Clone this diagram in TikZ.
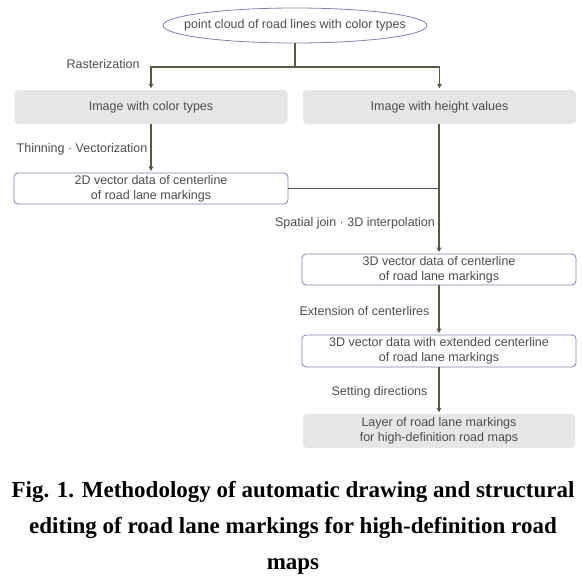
\documentclass[tikz,border=0pt]{standalone}
\usepackage{fontspec}
\setmainfont{Liberation Serif}
\setsansfont{Liberation Sans}
\usetikzlibrary{shapes.geometric,arrows.meta}
\definecolor{linec}{HTML}{5B5646}
\definecolor{txtc}{HTML}{4D4D4D}
\definecolor{bordc}{HTML}{7C84AC}
\definecolor{grayfill}{HTML}{E6E6E6}
\begin{document}
\begin{tikzpicture}[x=1pt,y=-1pt,
  every node/.style={font=\sffamily\fontsize{12.5}{15}\selectfont, text=txtc},
  graybox/.style={rectangle, rounded corners=4pt, fill=grayfill, minimum height=34pt, minimum width=273pt, inner sep=0pt, align=center},
  whitebox/.style={rectangle, rounded corners=4pt, draw=bordc, line width=0.8pt, fill=white, minimum height=31pt, minimum width=274pt, inner sep=0pt, align=center},
  conn/.style={draw=linec, line width=1.2pt},
  arr/.style={conn, -{Triangle[width=4.5pt,length=4.5pt]}, shorten >=1.5pt},
  lbl/.style={inner sep=0pt},
  captxt/.style={font=\rmfamily\bfseries\fontsize{23}{28}\selectfont, text=black, inner sep=0pt, anchor=base}]
\useasboundingbox (0,0) rectangle (582,576);

\node[ellipse, draw=bordc, line width=0.8pt, minimum width=264pt, minimum height=35pt, inner xsep=-20pt, inner ysep=0pt] (ell) at (295,25.5) {point cloud of road lines with color types};

\node[graybox] (b1) at (151,107) {Image with color types};
\node[graybox] (b2) at (439.5,107) {Image with height values};
\node[whitebox] (b3) at (151,188.5) {2D vector data of centerline\\of road lane markings};
\node[whitebox] (b4) at (439,269.5) {3D vector data of centerline\\of road lane markings};
\node[whitebox, minimum height=32pt] (b5) at (439,351) {3D vector data with extended centerline\\of road lane markings};
\node[graybox, minimum width=272pt] (b6) at (439,431) {Layer of road lane markings\\for high-definition road maps};

\coordinate (j1) at (295,67);
\draw[conn] (ell.south) -- (j1);
\draw[arr] (j1) -| (b1.north);
\draw[arr] (j1) -| (b2.north);
\draw[arr] (b1.south) -- (b3.north);
\draw[arr] (b2.south -| b4.north) -- (b4.north);
\draw[conn] (b3.east) -- (b3.east -| b4.north);
\draw[arr] (b4.south) -- (b5.north);
\draw[arr] (b5.south) -- (b6.north);

\node[lbl] (l1) at (103,64) {Rasterization};
\node[lbl] (l2) at (82,149) {Thinning · Vectorization};
\node[lbl] (l3) at (355,223) {Spatial join · 3D interpolation};
\node[lbl] (l4) at (364.5,311) {Extension of centerlires};
\node[lbl] (l5) at (379.5,392) {Setting directions};

\node[captxt] (c1) at (293,497) {Fig. 1. Methodology of automatic drawing and structural};
\node[captxt] (c2) at (293,533) {editing of road lane markings for high-definition road};
\node[captxt] (c3) at (293,569) {maps};
\end{tikzpicture}
\end{document}
